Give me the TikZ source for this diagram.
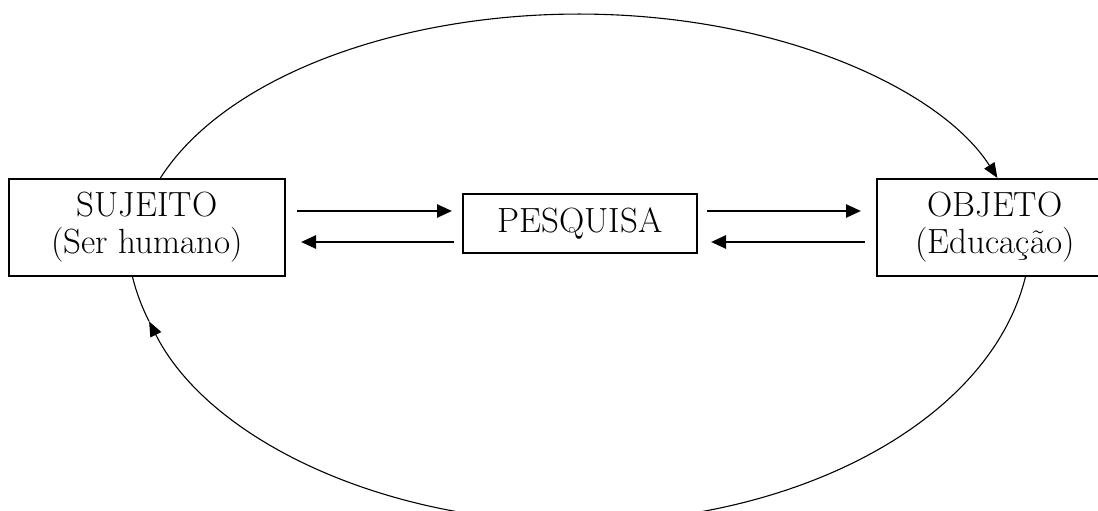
\documentclass[tikz,border=0pt]{standalone}
\usetikzlibrary{arrows.meta}
\begin{document}
\begin{tikzpicture}[x=1pt,y=1pt,
  box/.style={draw=black,line width=2pt,inner sep=0pt,align=center,
    font=\fontsize{35}{37}\selectfont},
  fat/.style={line width=2.6pt,-{Triangle[length=15pt,width=13pt]}},
  arcline/.style={line width=1.1pt},
  arctip/.style={-{Triangle[length=15pt,width=12pt]}}]
\useasboundingbox (0,0) rectangle (1098,511);
\node[box,minimum width=276pt,minimum height=97pt] (suj) at (147,283.5) {SUJEITO\\(Ser humano)};
\node[box,minimum width=234pt,minimum height=59pt] (pes) at (580,287.5) {PESQUISA};
\node[box,minimum width=236pt,minimum height=97pt] (obj) at (995,283.5) {OBJETO\\(Educação)};
% horizontal arrows
\draw[fat] ([xshift=11pt,yshift=16.5pt]suj.east) -- ([xshift=-10pt,yshift=12.5pt]pes.west);
\draw[fat] ([xshift=-8pt,yshift=-18.5pt]pes.west) -- ([xshift=15pt,yshift=-14.5pt]suj.east);
\draw[fat] ([xshift=9pt,yshift=12.5pt]pes.east) -- ([xshift=-15pt,yshift=16.5pt]obj.west);
\draw[fat] ([xshift=-11pt,yshift=-14.5pt]obj.west) -- ([xshift=13pt,yshift=-18.5pt]pes.east);
% top arc: SUJEITO -> OBJETO
\draw[arcline,arctip] ([xshift=152.4pt]suj.north west)
  arc[start angle=160.5,end angle=19.5,x radius=444pt,y radius=246pt];
% bottom arc: OBJETO -> SUJEITO
\draw[arcline,arctip] ([xshift=149.4pt]obj.south west)
  arc[start angle=-9,end angle=-162,x radius=452pt,y radius=291pt] coordinate (m);
\draw[arcline] (m) arc[start angle=-162,end angle=-171,x radius=452pt,y radius=291pt];
\end{tikzpicture}
\end{document}
